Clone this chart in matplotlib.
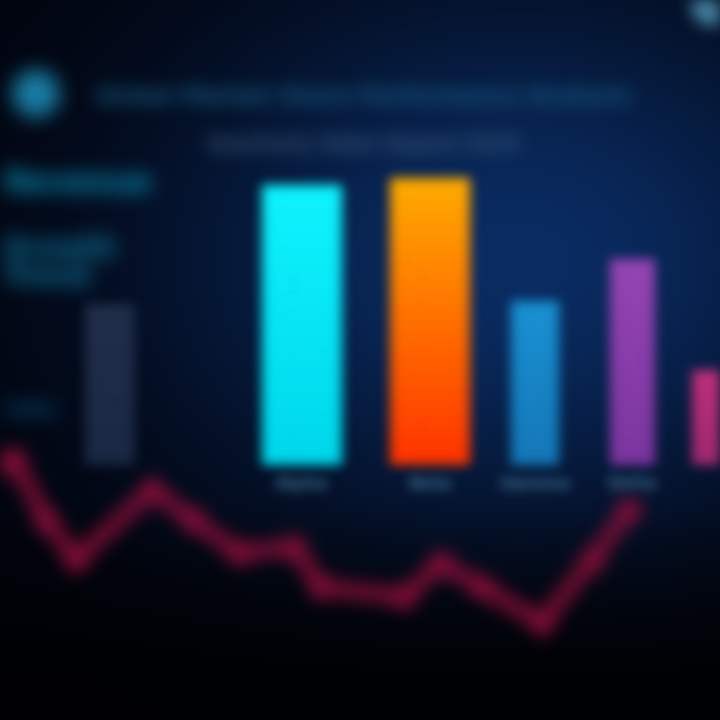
import numpy as np
import matplotlib; matplotlib.use("Agg")
import matplotlib.pyplot as plt

# ---- data (values in chart units, baseline 0) ----
categories = ["Other", "Alpha", "Beta", "Gamma", "Delta", "Epsilon"]
bar_values = [46, 80, 82, 47, 59, 27]
trend_x = [0, 14, 46, 76, 152, 193, 239, 294, 321, 404, 441, 482, 542, 592, 629]
trend_y = [0.6, 1.5, -15.7, -27.1, -7.1, -15.7, -25.1, -23.4, -34.9, -37.7, -28.0, -34.9, -45.1, -27.1, -12.9]
title = "Global Market Share Performance Analysis"
subtitle = "Quarterly Sales Report 2024"
side_labels = ["Revenue", "Growth\nTrend", "Index"]

# ---- layout / style ----
bar_x = [110, 302, 430, 535, 632, 712]
bar_w = [50, 80, 80, 48, 45, 40]
bar_top = ["#222f4b", "#10f4ff", "#ffac00", "#1a92d4", "#9646b4", "#c0307e"]
bar_bot = ["#1c2944", "#00d8ec", "#ff3400", "#1678b8", "#7c36a0", "#a02a70"]


def box(a, r, axis):
    pad = [(0, 0)] * a.ndim; pad[axis] = (r + 1, r)
    c = np.cumsum(np.pad(a, pad), axis=axis)
    n = a.shape[axis]
    return (np.take(c, np.arange(2*r + 1, 2*r + 1 + n), axis=axis) - np.take(c, np.arange(n), axis=axis)) / (2*r + 1)


class Blur:
    def __init__(self, r): self.r = r
    def __call__(self, im, dpi):
        p = 4 * self.r
        im = np.pad(im, [(p, p), (p, p), (0, 0)])
        a = im[..., 3:]
        pm = np.concatenate([im[..., :3] * a, a], axis=2)
        for _ in range(3):
            pm = box(box(pm, self.r, 0), self.r, 1)
        out = pm.copy()
        out[..., :3] = pm[..., :3] / np.maximum(pm[..., 3:], 1e-6)
        return np.clip(out, 0, 1), -p, -p


def hex2rgb(h):
    return np.array([int(h[i:i+2], 16) / 255 for i in (1, 3, 5)])


fig = plt.figure(figsize=(7.2, 7.2), dpi=100)

# background gradient
bg = fig.add_axes([0, 0, 1, 1]); bg.axis("off")
Y, X = np.mgrid[0:1:360j, 0:1:360j]
glow = np.exp(-(((X - 0.72) / 0.5) ** 2 + ((Y - 0.36) / 0.38) ** 2))
img = np.array([0.004, 0.012, 0.045]) + glow[..., None] * np.array([0.035, 0.16, 0.34])
fade = np.clip((1.02 - Y) / 0.32, 0.25, 1.0)
img = img * fade[..., None]
bg.imshow(np.clip(img, 0, 1), extent=[0, 1, 1, 0], aspect="auto")
bg.set_xlim(0, 1); bg.set_ylim(1, 0)

# main chart axes: x in layout units, y in value units (baseline at 465 px)
ax = fig.add_axes([0, 0, 1, 1]); ax.axis("off"); ax.patch.set_alpha(0)

for i, v in enumerate(bar_values):
    x0 = bar_x[i] - bar_w[i] / 2
    grad = np.linspace(0, 1, 64)[:, None, None]
    cols = hex2rgb(bar_top[i]) * (1 - grad) + hex2rgb(bar_bot[i]) * grad
    im = ax.imshow(cols, extent=[x0, x0 + bar_w[i], 0, v], aspect="auto", origin="upper", zorder=3)
    rect = plt.Rectangle((x0, 0), bar_w[i], v, transform=ax.transData, fc="none", ec="none")
    ax.add_patch(rect); im.set_clip_path(rect)
    im.set_agg_filter(Blur(5)); im.set_rasterized(True)
    if 0 < i < 5:
        t = ax.text(bar_x[i], -5.5, categories[i], ha="center", va="center", color="#3d6a8c",
                    fontsize=12, fontweight="bold", zorder=3)
        t.set_agg_filter(Blur(5))
ax.set_ylim(-72.86, 132.86); ax.set_xlim(0, 720)

# trend line
ln, = ax.plot(trend_x, trend_y, color="#8e0f3a", lw=12, alpha=0.85, solid_joinstyle="round",
              solid_capstyle="round", marker="o", ms=17, zorder=4)
ln.set_agg_filter(Blur(8))

# texts
for t in [fig.text(0.505, 0.865, title, ha="center", va="center", color="#1a6189", fontsize=16, fontweight="bold"),
          fig.text(0.505, 0.80, subtitle, ha="center", va="center", color="#3e5f80", fontsize=14, fontweight="bold")]:
    t.set_agg_filter(Blur(8))

side_pos = [(0.004, 0.745, 22, "#0b98c2"), (0.004, 0.635, 20, "#1280a8"), (0.004, 0.43, 13, "#0b5a86")]
for lab, (x, y, fs, c) in zip(side_labels, side_pos):
    t = fig.text(x, y, lab, ha="left", va="center", color=c, fontsize=fs, fontweight="bold", linespacing=1.0)
    t.set_agg_filter(Blur(9))

icon = plt.Circle((0.05, 0.87), 0.032, transform=fig.transFigure, color="#1a7ea6")
fig.add_artist(icon); icon.set_agg_filter(Blur(9))
corner = plt.Circle((0.99, 0.995), 0.03, transform=fig.transFigure, color="#4a8aaa")
fig.add_artist(corner); corner.set_agg_filter(Blur(7))

fig.savefig("out.png", dpi=100)
